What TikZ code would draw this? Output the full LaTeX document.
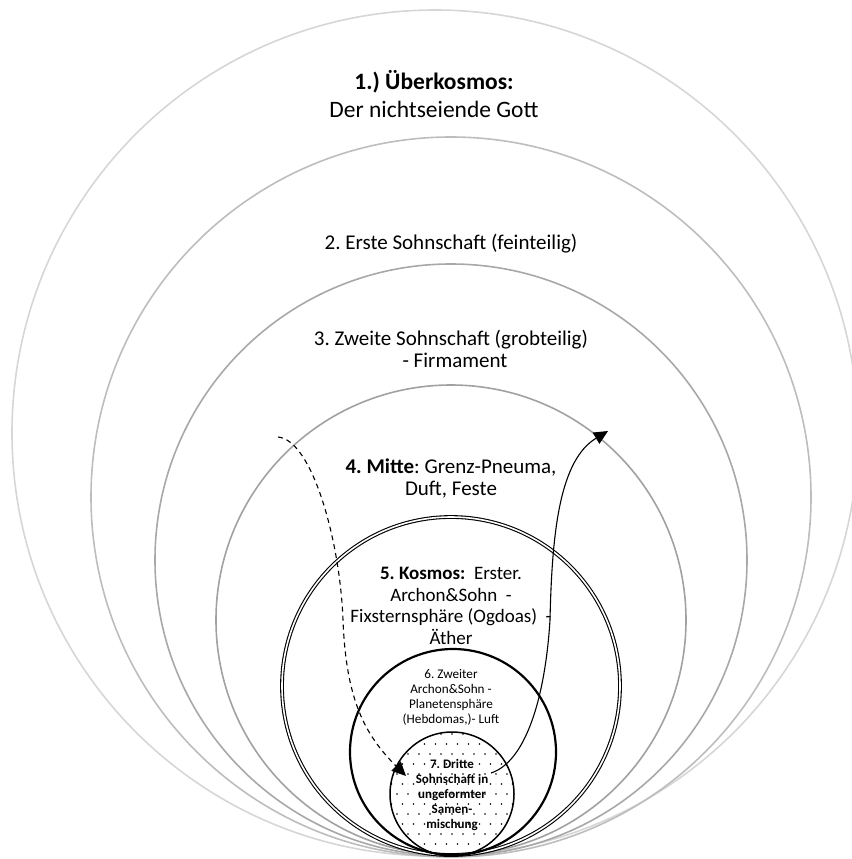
\documentclass[tikz,border=0pt]{standalone}
\usepackage{fontspec}
\setmainfont{Carlito}
\usetikzlibrary{arrows.meta}
\frenchspacing
\definecolor{ringA}{gray}{0.84}
\definecolor{ringB}{gray}{0.74}
\definecolor{ringC}{gray}{0.66}
\definecolor{ringD}{gray}{0.63}
\tikzstyle{sphere} = [
    circle,
    inner sep=0pt,
    outer sep=0pt,
    line width=1.6pt
]
\tikzstyle{bigtext} = [
    align=center,
    font=\fontsize{21}{22}\selectfont
]
\tikzstyle{midtext} = [
    align=center,
    font=\fontsize{13.2}{15}\selectfont
]
\tikzstyle{smalltext} = [
    align=center,
    font=\bfseries\fontsize{13}{15}\selectfont
]
\tikzstyle{arrow} = [line width=1.1pt,-{Triangle[length=14pt,width=13pt]}]

\begin{document}
\begin{tikzpicture}[x=1pt,y=-1pt]
\useasboundingbox (0,0) rectangle (851,859);

% Spheres
\node (ueber) [sphere, draw=ringA, minimum size=846pt] at (435,433) {};
\node (erste) [sphere, draw=ringB, minimum size=720pt] at (451,497) {};
\node (zweite) [sphere, draw=ringC, minimum size=592pt] at (451,560) {};
\node (mitte) [sphere, draw=ringD, minimum size=470pt] at (451,620) {};
\node (kosmos) [sphere, draw, double, line width=1.1pt, double distance=1.6pt, minimum size=338pt] at (451,686) {};
\node (archon) [sphere, draw, line width=2.2pt, minimum size=206pt] at (453,752) {};

% Seed mixture (dotted)
\begin{scope}
\clip (452,794) circle (62pt);
\foreach \i in {0,...,13}{
  \foreach \j in {0,...,12}{
    \fill ({386+11*\j+5.5*mod(\i,2)},{734+10*\i}) circle (0.8pt);
  }
}
\end{scope}
\node (samen) [sphere, draw, line width=1.5pt, minimum size=124pt] at (452,794) {};

% Texts
\node (tueber) [bigtext, font=\fontsize{23.5}{28}\selectfont] at (434,94) {\textbf{1.) Überkosmos:}\\Der nichtseiende Gott};
\node (terste) [bigtext] at (451,244) {2. Erste Sohnschaft (feinteilig)};
\node (tzweite) [bigtext] at (451,349) {3. Zweite Sohnschaft (grobteilig)\\\hspace*{8pt}- Firmament};
\node (tmitte) [bigtext] at (451,478) {\textbf{4. Mitte}: Grenz-Pneuma,\\Duft, Feste};
\node (tkosmos) [bigtext, font=\fontsize{19}{21.5}\selectfont] at (451,606) {\textbf{5. Kosmos:}~ Erster.\\Archon\&Sohn~ -\\Fixsternsphäre (Ogdoas)~ -\\Äther};
\node (tarchon) [midtext] at (451,697) {6. Zweiter\\Archon\&Sohn -\\Planetensphäre\\(Hebdomas,)- Luft};
\node (tsamen) [smalltext] at (452,795) {7. Dritte\\Sohnschaft in\\ungeformter\\Samen-\\mischung};

% Arrows
\coordinate (dstart) at (278,437);
\coordinate (dend) at (406,776);
\coordinate (sstart) at (491,773);
\coordinate (send) at (608,431);
\draw [arrow, dash pattern=on 5pt off 4pt] (dstart) .. controls (312,440) and (340,540) .. (343,620) .. controls (346,700) and (365,735) .. (dend);
\draw [arrow] (sstart) .. controls (525,762) and (545,700) .. (550,620) .. controls (552,530) and (560,460) .. (send);

\end{tikzpicture}
\end{document}
